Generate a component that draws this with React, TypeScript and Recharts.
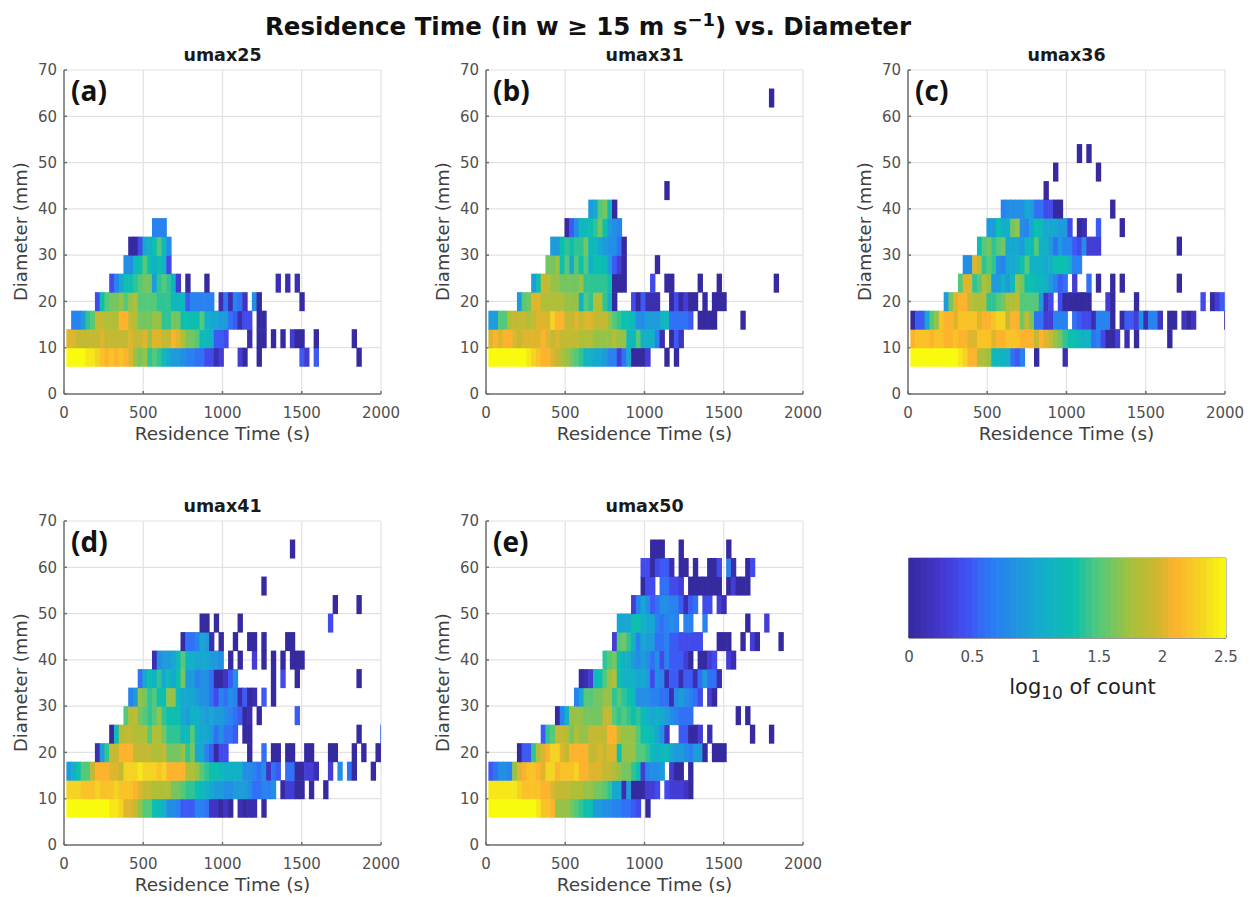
import { CartesianGrid, ReferenceArea, Scatter, ScatterChart, XAxis, YAxis } from "recharts";

// Histogram cells. Each panel lists its rows from 6-10 mm upward, 4 mm per row.
// A run is [first 30 s column, then log10(count) x 10 for consecutive columns].
const umax25: number[][][] = [
  [[0,25,25,25,25,24,24,23,22,21,22,21,22,21,20,17,16,17,14,15,14,12,10,9,9,8,7,7,6,6,4,4,1,3],[36,3,0],[40,0],[49,5,3],[52,5],[61,0]],
  [[0,20,20,19,19,19,19,19,20,19,19,19,19,19,20,19,19,20,17,20,20,19,19,21,20,18,16,16,15,12,12,11,5,5,4],[38,1],[40,0,0],[43,0],[45,0],[47,3,0,0],[52,0],[60,0]],
  [[1,7,7,9,14,15,19,19,18,18,18,21,21,19,18,16,16,16,17,17,14,14,16,16,13,13,13,13,15,11,10,10,9,9,6,5,1,4,4],[40,0,0]],
  [[6,4,13,15,16,16,17,15,17,18,15,15,15,15,14,14,14,12,12,12,5,7,7,7,7,7],[32,1,6,1,7,6,2],[39,8,0],[49,0]],
  [[9,4,7,10,13,13,14,15,16,16,9,14,15,14,11,3],[25,0],[29,0],[44,1],[46,1],[48,1]],
  [[12,8,8,12,13,15,13,11,13,11,4]],
  [[13,0,0,4,10,11,13,15,12,8]],
  [[18,7,7,7]],
];

const umax31: number[][][] = [
  [[0,25,25,25,25,25,25,25,25,24,23,22,21,21,20,19,18,17,16,15,14,11,11,10,10,9,7,7,3,6,10,0,0,0,3],[37,0],[39,0]],
  [[0,20,21,20,21,21,20,19,20,20,20,20,21,20,19,20,19,19,19,19,18,18,18,17,17,17,17,18,17,17,12,12,15,11,11,11,7,1],[38,0,5,2]],
  [[0,9,9,15,15,18,19,19,19,18,19,20,20,20,23,21,21,19,19,20,19,20,20,19,19,19,17,15,14,13,13,12,8,8,9,9,9,11,12,6,6,6,6,5],[44,0,0,0,0],[53,0]],
  [[6,9,15,16,20,20,18,18,18,18,18,17,17,17,11,15,14,18,18,14,11,0],[30,4,0,5,1,1,1],[38,0,4,0,3,0,0],[45,0],[47,0,0,0]],
  [[9,9,13,19,19,17,17,16,16,16,16,17,14,14,14,14,14,13],[26,0,0,0],[34,4],[37,0,0],[44,0],[48,0],[60,0]],
  [[12,16,16,17,13,15,10,15,13,15,11,13,13,12,9,5,3,0],[35,0]],
  [[13,9,9,13,14,13,14,14,16,12,12,10,9,8,8,6,0]],
  [[16,0,5,8,12,12,13,14,16,13,9,8,7]],
  [[21,9,10,15,16,12,0]],
  [[37,0]],
  [],
  [],
  [],
  [],
  [[59,0]],
];

const umax36: number[][][] = [
  [[0,25,25,25,25,25,25,25,25,25,25,24,23,21,21,18,18,17,12,12,11,11,6,5,7],[26,0],[32,1]],
  [[0,21,22,22,22,21,22,22,21,21,22,21,21,20,20,22,22,22,20,21,21,22,22,22,21,21,21,19,21,20,19,17,16,14,13,13,12,11,11,6,7,4,0,0,3],[45,1],[47,0],[54,0]],
  [[0,0,5,5,10,15,17,22,21,21,20,22,22,22,22,20,21,21,22,23,23,19,21,21,16,19,16,6,6,3,3,7,7,7],[34,6,5,4,4,1,7,7,7,0],[44,0,5,5,3,8,1,7,7,2],[54,0,0],[57,2,0,2],[66,0]],
  [[7,9,16,20,21,21,19,18,18,18,14,14,15,16,18,18,19,15,15,15,15,9,2,4],[31,4,0,0,0,0,0,0],[41,3,0],[47,0],[61,4],[63,0,3,5]],
  [[10,15,20,20,14,15,18,17,9,9,11,9,12,17,16,13,13,12,12,11,9,7,5,6],[34,3],[37,6],[39,0],[42,0],[44,0],[56,0]],
  [[11,8,8,20,19,14,15,14,8,7,10,10,11,13,15,11,11,11,10,11,13,13,13,11,7,7]],
  [[14,13,15,16,14,15,16,10,10,10,9,12,12,15,11,11,9,6,9,7,7,5,4,8,3,3,3],[56,0]],
  [[16,9,9,13,11,11,16,17,8,7,10,13,12,10,10,10,9,9,4],[35,0,1],[39,5],[44,0]],
  [[19,7,8,8,8,8,10,9,6,6,4,4,0,0],[42,0]],
  [[28,0]],
  [[30,0],[39,0]],
  [[35,0],[37,0]],
];

const umax41: number[][][] = [
  [[0,25,25,25,25,25,25,25,25,25,24,24,23,20,20,19,17,15,15,13,12,11,8,8,7,5,5,5,7,7,6,2,2,0,2,0],[36,1,0,1,1],[41,0]],
  [[0,23,23,23,22,22,22,23,22,22,22,23,22,22,22,21,20,19,19,18,18,18,18,16,16,15,14,14,13,12,11,10,9,9,8,8,9,9,9,8,6,6,7,7,8],[45,0,3,3,0,0],[51,0],[54,0]],
  [[0,9,11,13,15,15,19,21,21,21,20,20,19,23,23,23,24,23,23,23,22,23,21,21,21,21,18,18,17,15,14,13,13,12,11,11,11,11,8,8,7,6,8,2,6,5],[46,6,6,0,0,3,3,1],[55,3],[57,8],[59,6,0],[64,0]],
  [[6,1,9,14,19,19,21,21,21,19,19,19,19,18,18,19,16,16,16,17,14,16,10,10,7,5,0,4,4],[38,0],[41,6],[43,0,0],[46,0,0],[50,0,0],[55,0,0],[60,0],[62,0],[65,0,0]],
  [[9,0,12,18,19,19,18,18,18,15,18,18,16,14,14,14,12,12,15,11,10,10,9,6,8,6,6,5],[37,0,0],[61,0],[66,6]],
  [[12,15,18,19,16,15,14,15,17,14,13,13,13,10,9,11,11,10,9,10,9,9,8,7,6,5,0,1],[40,0],[48,5]],
  [[13,7,9,17,16,14,15,13,13,17,17,12,10,10,10,9,8,8,6,4,7,6,8,7,1,5,0,1],[41,5],[43,0]],
  [[15,6,10,13,11,14,10,12,10,13,16,9,9,7,8,8,6,0,0,2,5,8],[43,0],[45,4],[48,0],[61,0]],
  [[18,1,8,9,9,10,12,15,11,11,10,10,10,9,9,8],[34,0],[36,0],[39,3],[41,0],[43,0],[45,0],[47,0,0,0]],
  [[24,0,6,6,7,10,9,1],[32,0],[35,0],[38,0,0],[41,0],[46,0,0]],
  [[28,0,0],[31,0],[36,0],[55,4]],
  [[56,0],[61,0]],
  [[41,0]],
  [],
  [[47,0]],
];

const umax50: number[][][] = [
  [[0,25,25,25,25,25,25,25,25,25,25,24,22,22,21,17,17,17,16,15,14,13,13,9,9,8,8,7,7,6,6,5,4],[33,0]],
  [[0,24,24,24,24,24,24,23,22,22,22,22,21,21,20,19,19,19,18,18,18,17,17,16,16,15,14,10,10,1,9,0,0,0,3,3,4],[37,4,3,3,3,2,0]],
  [[0,5,6,8,8,7,17,20,21,22,22,21,20,23,23,21,22,22,22,23,21,21,20,20,20,19,19,18,17,16,16,14,13,3,7,8,8,9],[38,3,0,0],[42,0]],
  [[6,0,5,5,14,18,20,21,23,23,20,19,21,21,21,21,19,19,20,19,20,20,13,17,17,17,15,15,14,12,11,12,12,10,9,9,8,7,9,9,0],[47,0,0,0]],
  [[11,5,14,15,19,19,18,16,18,17,17,19,19,19,19,21,21,18,17,17,17,15,13,13,12,10,8,2],[40,5,5,0,0,3],[46,1],[55,0],[59,0]],
  [[14,0,7,11,17,17,17,16,16,16,16,19,19,15,14,15,14,13,14,12,11,10,11,10,9,8,7,6,6,6],[52,0],[54,0]],
  [[18,7,10,15,15,16,16,17,17,14,15,14,13,12,8,8,8,7,7,6,6,1,8,9,8,7,6,4],[46,3,0]],
  [[19,0,1,3,12,13,15,17,18,13,11,11,11,10,10,9,4,8,7,1,5,5,1,5,5,1,6,9,6,6,1]],
  [[24,14,15,16,13,11,11,9,8,9,8,6,8,4,7,5,5,5,3,0],[44,0,0,3,4],[50,3,1]],
  [[26,3,15,16,14,11,7,10,9,9,6,6,7,5,5,4,4,4,4,4],[48,0,0,0],[53,0],[55,3,0],[61,0]],
  [[27,10,10,10,13,13,11,10,10,7,6,7,8,7],[41,7,7],[45,7],[54,0],[58,3]],
  [[30,3,7,10,8,5,6,8,8,7,7,5,1,5,6],[45,4,4],[48,3,1]],
  [[32,0,4,4],[36,6,6,4,4,3],[42,0,0,0,0,0,0,0],[50,0,3,0,0,0]],
  [[32,4,4,0,4,5,5,1],[40,0,0],[43,0],[46,0,0,4],[50,7,1],[54,0,4]],
  [[34,0,0,0],[40,0],[50,0]],
];

const timeTicks = [0, 500, 1000, 1500, 2000];
const diameterTicks = [0, 10, 20, 30, 40, 50, 60, 70];
const colorTicks = [0, 0.5, 1, 1.5, 2, 2.5];
const colorLevels = [
  0.02, 0.07, 0.12, 0.17, 0.22, 0.27, 0.32, 0.37, 0.42, 0.47, 0.52, 0.57, 0.62, 0.67, 0.72, 0.77, 0.82, 0.87, 0.92, 0.97,
  1.02, 1.07, 1.12, 1.17, 1.22, 1.27, 1.32, 1.37, 1.42, 1.47, 1.52, 1.57, 1.62, 1.67, 1.72, 1.77, 1.82, 1.87, 1.92, 1.97,
  2.02, 2.07, 2.12, 2.17, 2.22, 2.27, 2.32, 2.37, 2.42, 2.47,
];
const colorStops: [number, string][] = [
  [0, "#352a9f"], [0.25, "#4436cc"], [0.45, "#4150f5"], [0.65, "#2b7cf5"], [0.85, "#2094e0"],
  [1.05, "#13aecb"], [1.3, "#0cbfae"], [1.5, "#55c97a"], [1.75, "#a6c03c"], [1.95, "#cdb72e"],
  [2.1, "#fdb32e"], [2.3, "#f5d323"], [2.5, "#f9fb0e"],
];

const PLOT_W = 317;
const PLOT_H = 324;
const BAR_H = 80;
const CELL_W = (30 * PLOT_W) / 2000;
const CELL_H = (4 * PLOT_H) / 70;
const FONT = '"DejaVu Sans", sans-serif';
const TICK = { fill: "#505050", fontSize: 15, fontFamily: FONT };

function colorFor(v: number) {
  for (let i = 1; i < colorStops.length; i++) {
    const [v1, c1] = colorStops[i];
    if (v <= v1) {
      const [v0, c0] = colorStops[i - 1];
      const t = (v - v0) / (v1 - v0);
      const ch = (c: string, o: number) => parseInt(c.slice(o, o + 2), 16);
      const mix = (o: number) => Math.round(ch(c0, o) + (ch(c1, o) - ch(c0, o)) * t);
      return `rgb(${mix(1)},${mix(3)},${mix(5)})`;
    }
  }
  return colorStops[colorStops.length - 1][1];
}

function toCells(rows: number[][][]) {
  return rows.flatMap((runs, row) =>
    runs.flatMap(([start, ...values]) =>
      values.map((v, i) => ({ time: 30 + (start + i) * 30, diameter: 8 + row * 4, log: v / 10 })),
    ),
  );
}

function Cell(props: any) {
  return (
    <rect
      x={props.cx - CELL_W / 2}
      y={props.cy - CELL_H / 2}
      width={CELL_W + 0.6}
      height={CELL_H + 0.5}
      fill={colorFor(props.payload.log)}
    />
  );
}

function BarStep(props: any) {
  const w = PLOT_W / colorLevels.length;
  return <rect x={props.cx - w / 2} y={props.cy - BAR_H / 2} width={w + 0.6} height={BAR_H} fill={colorFor(props.payload.x)} />;
}

const blank = () => "";

function Panel({ name, tag, rows, left, top }: { name: string; tag: string; rows: number[][][]; left: number; top: number }) {
  return (
    <div style={{ position: "absolute", left: left - 50, top: top - 10 }}>
      <ScatterChart width={PLOT_W + 70} height={PLOT_H + 60} margin={{ top: 10, right: 20, bottom: 0, left: 0 }}>
        <CartesianGrid stroke="#e2e2e2" strokeWidth={1.2} />
        <XAxis
          allowDataOverflow
          dataKey="time"
          domain={[0, 2000]}
          height={50}
          label={{ value: "Residence Time (s)", position: "insideTop", offset: 33, fill: "#404040", fontSize: 18.5, fontFamily: FONT }}
          stroke="#707070"
          strokeWidth={1.5}
          tick={TICK}
          tickMargin={16}
          tickSize={-3}
          ticks={timeTicks}
          type="number"
        />
        <YAxis
          dataKey="diameter"
          domain={[0, 70]}
          stroke="#707070"
          strokeWidth={1.5}
          tick={TICK}
          tickMargin={10}
          tickSize={-3}
          ticks={diameterTicks}
          type="number"
          width={50}
        />
        <XAxis xAxisId="top" domain={[0, 2000]} height={0} orientation="top" stroke="#707070" strokeWidth={1.5} tickFormatter={blank} tickSize={-3} ticks={timeTicks} type="number" />
        <YAxis yAxisId="right" domain={[0, 70]} orientation="right" stroke="#707070" strokeWidth={1.5} tickFormatter={blank} tickSize={-3} ticks={diameterTicks} type="number" width={0} />
        <Scatter data={toCells(rows)} isAnimationActive={false} shape={Cell} />
      </ScatterChart>
      <div style={{ position: "absolute", left: -5, top: 10, height: PLOT_H, writingMode: "vertical-rl", transform: "rotate(180deg)", textAlign: "center", font: `18px ${FONT}`, lineHeight: "24px", color: "#404040" }}>
        Diameter (mm)
      </div>
      <div style={{ position: "absolute", left: 50, top: -14, width: PLOT_W, textAlign: "center", font: `bold 17.5px ${FONT}`, color: "#1a1a1a", lineHeight: "18px" }}>
        {name}
      </div>
      <div style={{ position: "absolute", left: 57, top: 11, font: `bold 28px "Open Sans", sans-serif`, color: "#111" }}>{tag}</div>
    </div>
  );
}

function Colorbar() {
  return (
    <div style={{ position: "absolute", left: 899, top: 548 }}>
      <ScatterChart width={340} height={150} margin={{ top: 10, right: 13, bottom: 0, left: 10 }}>
        <XAxis dataKey="x" domain={[0, 2.5]} height={60} stroke="#707070" tick={TICK} tickFormatter={(v) => String(v)} tickMargin={16} tickSize={-3} ticks={colorTicks} type="number" />
        <YAxis dataKey="y" domain={[0, 1]} hide type="number" />
        <Scatter data={colorLevels.map((x) => ({ x, y: 0.5 }))} isAnimationActive={false} shape={BarStep} />
        <ReferenceArea x1={0} x2={2.5} y1={0} y2={1} fill="none" stroke="#808080" strokeOpacity={1} />
      </ScatterChart>
      <div style={{ position: "absolute", left: 25, top: 127, width: 317, textAlign: "center", font: `21px ${FONT}`, color: "#222" }}>
        log<sub style={{ fontSize: 17 }}>10</sub> of count
      </div>
    </div>
  );
}

export default function App() {
  return (
    <div style={{ position: "absolute", left: 0, top: 0, width: 1256, height: 897, background: "#fff", overflow: "hidden" }}>
      <div style={{ position: "absolute", left: 0, top: 12, width: 1176, textAlign: "center", font: `bold 24.5px ${FONT}`, color: "#111", whiteSpace: "nowrap" }}>
        Residence Time (in w ≥ 15 m s<sup style={{ fontSize: 18, lineHeight: 0 }}>−1</sup>) vs. Diameter
      </div>
      <Panel name="umax25" tag="(a)" rows={umax25} left={64} top={70} />
      <Panel name="umax31" tag="(b)" rows={umax31} left={486} top={70} />
      <Panel name="umax36" tag="(c)" rows={umax36} left={908} top={70} />
      <Panel name="umax41" tag="(d)" rows={umax41} left={64} top={521} />
      <Panel name="umax50" tag="(e)" rows={umax50} left={486} top={521} />
      <Colorbar />
    </div>
  );
}
